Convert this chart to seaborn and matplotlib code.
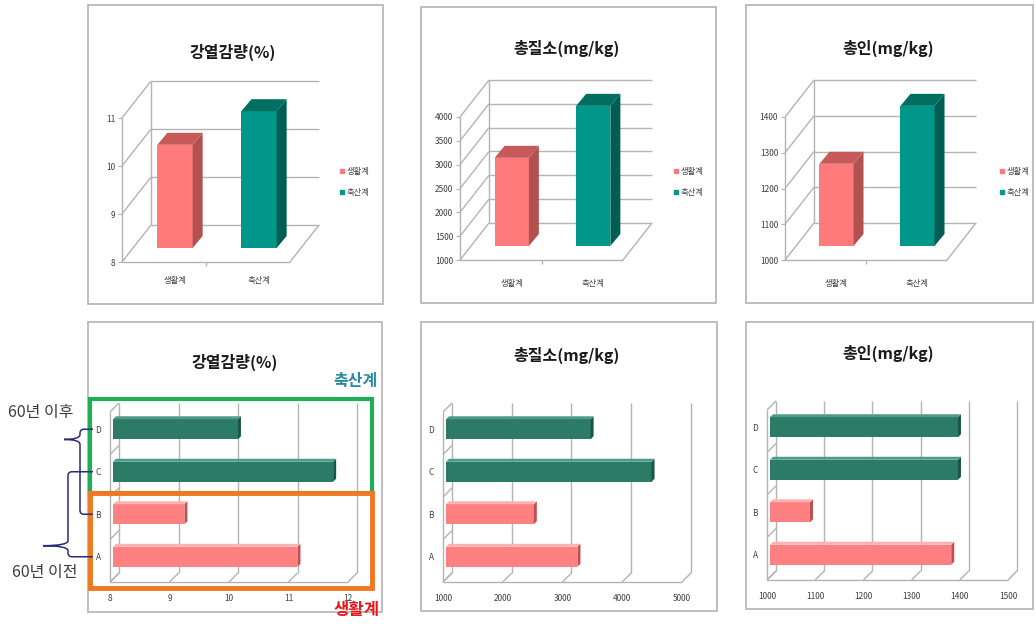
import matplotlib
matplotlib.use("Agg")
import matplotlib.pyplot as plt
import pandas as pd
import seaborn as sns
from matplotlib.lines import Line2D
from matplotlib.patches import Polygon, Rectangle, PathPatch
from matplotlib.path import Path
from matplotlib.transforms import Affine2D

# ---------------- data ----------------
groups = ["생활계", "축산계"]
loi_group = [10.15, 10.85]
tn_group = [2850, 3940]
tp_group = [1230, 1392]

sites = ["D", "C", "B", "A"]
site_group = ["축산계", "축산계", "생활계", "생활계"]
loi_site = [10.1, 11.7, 9.2, 11.1]
tn_site = [3420, 4440, 2470, 3200]
tp_site = [1390, 1390, 1083, 1376]

titles = ["강열감량(%)", "총질소(mg/kg)", "총인(mg/kg)"]
loi_ticks = [8, 9, 10, 11]
tn_ticks = [1000, 1500, 2000, 2500, 3000, 3500, 4000]
tp_ticks = [1000, 1100, 1200, 1300, 1400]
loi_site_ticks = [8, 9, 10, 11, 12]
tn_site_ticks = [1000, 2000, 3000, 4000, 5000]
tp_site_ticks = [1000, 1100, 1200, 1300, 1400, 1500]

# ---------------- style ----------------
W, H, DPI = 1036, 629, 100
sns.set_theme(style="white")
plt.rcParams["font.family"] = ["Noto Sans CJK KR", "DejaVu Sans"]
plt.rcParams["axes.unicode_minus"] = False

fig = plt.figure(figsize=(W / DPI, H / DPI), dpi=DPI)
fig.patch.set_facecolor("white")
PX = Affine2D().scale(1, -1).translate(0, H)   # pixel space, origin top-left

GRID = "#b3b3b3"
TXT = "#404040"
FACE = {"생활계": "#ff7b7b", "축산계": "#00978b"}
SIDE = {"생활계": "#b35050", "축산계": "#005d54"}
TOP = {"생활계": "#c65a5a", "축산계": "#006f60"}
FACE_B = {"생활계": "#ff8080", "축산계": "#2b7b67"}
SIDE_B = {"생활계": "#c05050", "축산계": "#1a5545"}
TOP_B = {"생활계": "#ffb0b0", "축산계": "#4e9c87"}


def axes_px(left, top, right, bottom):
    return fig.add_axes([left / W, 1 - bottom / H, (right - left) / W, (bottom - top) / H])


def px_to_data(ax, dx, dy):
    t = ax.transData
    o = t.transform((0, 0))
    ux = t.transform((1, 0))[0] - o[0]
    uy = t.transform((0, 1))[1] - o[1]
    return dx / ux, -dy / uy


def seg(ax, xs, ys):
    ax.plot(xs, ys, color=GRID, lw=1.0, clip_on=False, zorder=1, solid_capstyle="butt")


def panel_box(left, top, right, bottom):
    fig.add_artist(Rectangle((left, top), right - left, bottom - top, transform=PX,
                             fill=False, edgecolor="#b9b9b9", lw=1.3))


def panel_title(x, y, s):
    fig.text(x, y, s, transform=PX, ha="center", va="center", fontsize=11.5,
             fontweight="bold", color="#1a1a1a")


def bare(ax):
    ax.patch.set_visible(False)
    for s in ax.spines.values():
        s.set_visible(False)
    ax.set_xlabel("")
    ax.set_ylabel("")


def column_panel(front, cats, vals, ticks, catpad, legend_xy):
    ax = axes_px(*front)
    df = pd.DataFrame({"group": cats, "value": vals})
    sns.barplot(data=df, x="group", y="value", hue="group", order=cats, hue_order=cats,
                palette=FACE, width=0.42, saturation=1, linewidth=0, errorbar=None,
                legend=False, ax=ax)
    n = len(cats)
    x0, x1 = -0.5, n - 0.5
    y0, y1 = ticks[0], ticks[-1]
    ax.set_xlim(x0, x1)
    ax.set_ylim(y0, y1)
    bare(ax)
    ddx, ddy = px_to_data(ax, 29, -37)
    bdx, bdy = px_to_data(ax, 11, -14)
    kdx, kdy = px_to_data(ax, 10, -12)
    # side wall, back wall and floor
    seg(ax, [x0, x0], [y0, y1])
    seg(ax, [x0 + ddx, x0 + ddx], [y0 + ddy, y1 + ddy])
    for t in ticks:
        seg(ax, [x0, x0 + ddx], [t, t + ddy])
        seg(ax, [x0 + ddx, x1 + ddx], [t + ddy, t + ddy])
    seg(ax, [x0, x1], [y0, y0])
    seg(ax, [x1, x1 + ddx], [y0, y0 + ddy])
    _, tdy = px_to_data(ax, 0, 4)
    seg(ax, [0.5, 0.5], [y0, y0 + tdy])
    # extruded columns
    for p in list(ax.patches):
        val = p.get_height()
        w = p.get_width()
        g = cats[int(round(p.get_x() + w / 2))]
        xl = p.get_x() + bdx
        xr = xl + w
        yb, yt = y0 + bdy, val + bdy
        p.set_x(xl)
        p.set_y(yb)
        p.set_height(val - y0)
        p.set_clip_on(False)
        p.set_zorder(3)
        ax.add_patch(Polygon([(xr, yb), (xr, yt), (xr + kdx, yt + kdy), (xr + kdx, yb + kdy)],
                             closed=True, facecolor=SIDE[g], edgecolor="none",
                             clip_on=False, zorder=3))
        ax.add_patch(Polygon([(xl, yt), (xr, yt), (xr + kdx, yt + kdy), (xl + kdx, yt + kdy)],
                             closed=True, facecolor=TOP[g], edgecolor="none",
                             clip_on=False, zorder=3))
    ax.set_yticks(ticks, [str(t) for t in ticks])
    ax.set_xticks([i + bdx for i in range(n)], cats)
    ax.tick_params(axis="y", left=True, length=3, width=0.8, color=GRID, pad=2,
                   labelsize=6, labelcolor=TXT)
    ax.tick_params(axis="x", bottom=False, length=0, pad=catpad, labelsize=6, labelcolor=TXT)
    handles = [Line2D([], [], marker="s", ls="none", markersize=3.5, color=FACE[c]) for c in cats]
    ax.legend(handles, cats, loc="center left", bbox_to_anchor=legend_xy, bbox_transform=PX,
              frameon=False, fontsize=6, handlelength=0.6, handletextpad=0.3,
              labelspacing=1.5, borderpad=0, borderaxespad=0, labelcolor=TXT)
    return ax


def bar_panel(front, vals, ticks):
    ax = axes_px(*front)
    df = pd.DataFrame({"site": sites, "group": site_group, "value": vals})
    sns.barplot(data=df, x="value", y="site", hue="group", order=sites, hue_order=groups,
                palette=FACE_B, orient="y", dodge=False, width=0.47, saturation=1,
                linewidth=0, errorbar=None, legend=False, ax=ax)
    n = len(sites)
    x0, x1 = ticks[0], ticks[-1]
    ytop, ybot = -0.5, n - 0.5
    ax.set_xlim(x0, x1)
    ax.set_ylim(ybot, ytop)
    bare(ax)
    ddx, ddy = px_to_data(ax, 9, -9)
    bdx, bdy = px_to_data(ax, 3, -4)
    kdx, kdy = px_to_data(ax, 3, -3)
    # back wall, floor and side wall
    for t in ticks:
        seg(ax, [t + ddx, t + ddx], [ybot + ddy, ytop + ddy])
        seg(ax, [t, t + ddx], [ybot, ybot + ddy])
    seg(ax, [x0, x0], [ybot, ytop])
    for k in range(n + 1):
        seg(ax, [x0, x0 + ddx], [ytop + k, ytop + k + ddy])
    seg(ax, [x0, x1], [ybot, ybot])
    # extruded bars
    for p in list(ax.patches):
        val = p.get_width()
        h = p.get_height()
        g = site_group[int(round(p.get_y() + h / 2))]
        yt = p.get_y() + bdy
        yb = yt + h
        xl, xr = x0 + bdx, val + bdx
        p.set_x(xl)
        p.set_width(val - x0)
        p.set_y(yt)
        p.set_clip_on(False)
        p.set_zorder(3)
        ax.add_patch(Polygon([(xr, yt), (xr, yb), (xr + kdx, yb + kdy), (xr + kdx, yt + kdy)],
                             closed=True, facecolor=SIDE_B[g], edgecolor="none",
                             clip_on=False, zorder=3))
        ax.add_patch(Polygon([(xl, yt), (xr, yt), (xr + kdx, yt + kdy), (xl + kdx, yt + kdy)],
                             closed=True, facecolor=TOP_B[g], edgecolor="none",
                             clip_on=False, zorder=3))
    ax.set_xticks(ticks, [str(t) for t in ticks])
    ax.set_yticks([i + bdy for i in range(n)], sites)
    ax.tick_params(axis="x", bottom=False, length=0, pad=8.5, labelsize=6, labelcolor=TXT)
    ax.tick_params(axis="y", left=False, length=0, pad=6.5, labelsize=6, labelcolor=TXT)
    return ax, bdy


# ---------------- panels ----------------
top_layout = [
    dict(box=(88, 5, 383, 304), front=(122, 118, 290, 262), title=(233, 52), legend=(339, 182), pad=10),
    dict(box=(421, 7, 716, 303), front=(460, 117, 623, 260), title=(567, 48), legend=(673, 182), pad=14),
    dict(box=(746, 5, 1033, 303), front=(785, 117, 947, 260), title=(888, 48), legend=(999, 182), pad=14),
]
bottom_layout = [
    dict(box=(88, 322, 382, 612), front=(110, 412, 348, 582), title=(235, 362)),
    dict(box=(421, 322, 717, 611), front=(443, 412, 682, 582), title=(567, 355)),
    dict(box=(746, 322, 1033, 609), front=(767, 410, 1008, 580), title=(888, 353)),
]

top_vals = [loi_group, tn_group, tp_group]
top_ticks = [loi_ticks, tn_ticks, tp_ticks]
site_vals = [loi_site, tn_site, tp_site]
site_ticks = [loi_site_ticks, tn_site_ticks, tp_site_ticks]

for lay, s, v, t in zip(top_layout, titles, top_vals, top_ticks):
    panel_box(*lay["box"])
    panel_title(*lay["title"], s)
    column_panel(lay["front"], groups, v, t, lay["pad"], lay["legend"])

site_axes = []
for lay, s, v, t in zip(bottom_layout, titles, site_vals, site_ticks):
    panel_box(*lay["box"])
    panel_title(*lay["title"], s)
    site_axes.append(bar_panel(lay["front"], v, t))

# ---------------- grouping annotations ----------------
ax0, bdy0 = site_axes[0]
row_y = {c: H - ax0.transData.transform((0, i + bdy0))[1] for i, c in enumerate(sites)}

fig.add_artist(Rectangle((90, 399), 282, 94, transform=PX, fill=False,
                         edgecolor="#1fad55", lw=3.0, zorder=6))
fig.add_artist(Rectangle((90, 493), 282, 95, transform=PX, fill=False,
                         edgecolor="#f07820", lw=3.5, zorder=6))
fig.text(355, 381, "축산계", transform=PX, ha="center", va="center", fontsize=11.5,
         color="#2a8aa0", fontweight="bold")
fig.text(357, 610, "생활계", transform=PX, ha="center", va="center", fontsize=12,
         color="#e3191c", fontweight="bold", zorder=7)
fig.text(41, 412, "60년 이후", transform=PX, ha="center", va="center", fontsize=11.5, color="#3c3c3c")
fig.text(45, 573, "60년 이전", transform=PX, ha="center", va="center", fontsize=11.5, color="#3c3c3c")


def brace(x_end, x_spine, x_tip, y_a, y_b, frac, r=4, rt=5):
    y_tip = y_a + frac * (y_b - y_a)
    verts = [(x_end, y_a), (x_spine + r, y_a), (x_spine, y_a), (x_spine, y_a + r),
             (x_spine, y_tip - rt), (x_spine, y_tip), (x_tip, y_tip),
             (x_spine, y_tip), (x_spine, y_tip + rt),
             (x_spine, y_b - r), (x_spine, y_b), (x_spine + r, y_b), (x_end, y_b)]
    codes = [Path.MOVETO, Path.LINETO, Path.CURVE3, Path.CURVE3, Path.LINETO,
             Path.CURVE3, Path.CURVE3, Path.CURVE3, Path.CURVE3, Path.LINETO,
             Path.CURVE3, Path.CURVE3, Path.LINETO]
    fig.add_artist(PathPatch(Path(verts, codes), transform=PX, fill=False,
                             edgecolor="#2b2b7a", lw=1.1, zorder=6))


brace(93, 80, 64, row_y["D"], row_y["B"], 0.12)
brace(93, 68, 43, row_y["C"], row_y["A"], 0.87)

fig.savefig("out.png", dpi=DPI)
